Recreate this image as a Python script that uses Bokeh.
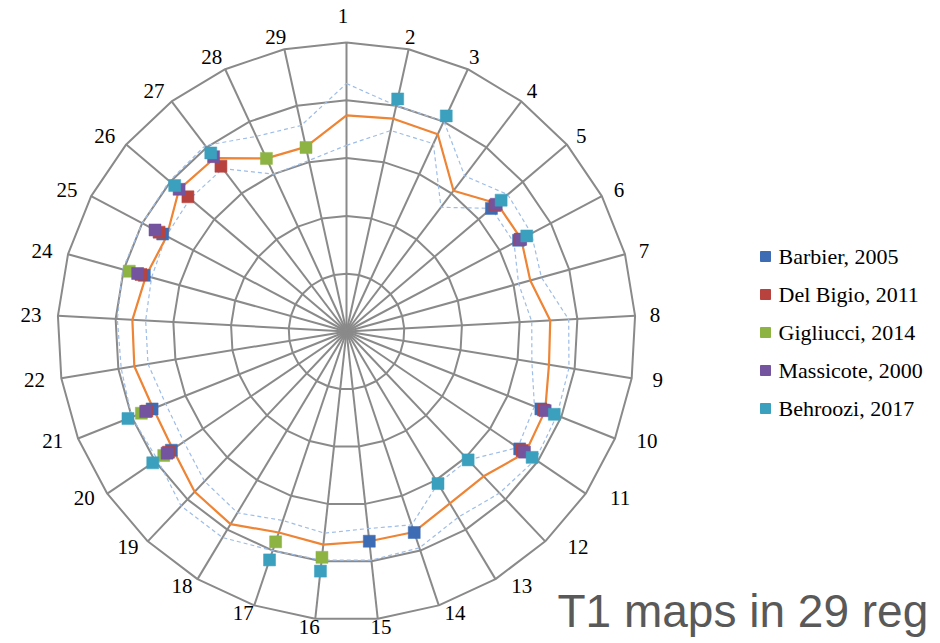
import numpy as np
from bokeh.plotting import figure
from bokeh.models import Range1d
from bokeh.core.properties import value
from bokeh.embed import file_html
from bokeh.resources import INLINE

# ---------------- data ----------------
regions = [str(i) for i in range(1, 30)]
ring_levels = [1, 2, 3, 4, 5]

mean_t1 = [3.74, 3.77, 3.76, 3.06, 3.42, 3.42, 3.30, 3.53, 3.55, 3.70,
           3.74, 3.45, 3.47, 3.66, 3.65, 3.71, 3.67, 3.89, 3.82, 3.63,
           3.60, 3.72, 3.71, 3.60, 3.52, 3.80, 3.77, 3.30, 3.27]
lower_t1 = [3.22, 3.56, 3.58, 2.70, 3.29, 3.28, 3.09, 3.21, 3.25, 3.50,
            3.58, 3.06, 3.07, 3.53, 3.43, 3.51, 3.45, 3.66, 3.57, 3.40,
            3.37, 3.48, 3.48, 3.50, 3.53, 3.55, 3.54, 3.00, 3.03]
upper_t1 = [4.29, 4.00, 4.01, 3.38, 3.66, 3.62, 3.50, 3.85, 3.90, 3.92,
            3.95, 3.85, 3.75, 3.95, 3.98, 3.98, 4.00, 4.16, 4.16, 3.95,
            4.00, 3.95, 3.97, 4.02, 4.00, 4.02, 4.04, 3.72, 3.65]

N = None
barbier_2005 = [N, N, N, N, 3.29, 3.37, N, N, N, 3.62,
                3.62, N, N, 3.67, 3.65, N, N, N, N, 3.66,
                3.62, N, N, 3.63, 3.60, N, N, N, N]
delbigio_2011 = [N, N, N, N, 3.37, 3.40, N, N, N, 3.67,
                 3.67, N, N, N, N, N, N, N, N, 3.72,
                 3.72, N, N, 3.69, 3.67, 3.60, 3.59, N, N]
gigliucci_2014 = [N, N, N, N, N, N, N, N, N, N,
                  N, N, N, N, N, 3.93, 3.84, N, N, 3.82,
                  3.82, N, N, 3.90, N, N, N, 3.30, 3.26]
massicote_2000 = [N, N, N, N, 3.40, 3.41, N, N, N, 3.70,
                  3.72, N, N, N, N, N, N, N, N, 3.75,
                  3.74, N, N, 3.75, 3.75, 3.80, 3.80, N, N]
behroozi_2017 = [N, 4.12, 4.11, N, 3.51, 3.53, N, N, N, 3.87,
                 3.88, 3.06, 3.07, N, N, 4.17, 4.17, N, N, 4.05,
                 4.07, N, N, N, N, 3.90, 3.88, N, N]

studies = ["Barbier, 2005", "Del Bigio, 2011", "Gigliucci, 2014",
           "Massicote, 2000", "Behroozi, 2017"]
study_values = [barbier_2005, delbigio_2011, gigliucci_2014,
                massicote_2000, behroozi_2017]
study_colors = ["#3E6CB4", "#B8433E", "#8DB443", "#74549F", "#3BA0BE"]

# ---------------- geometry ----------------
W, H = 940, 642
S = 57.8            # px per ring unit
CX, CY = 346, 331   # centre in figure pixels (from top-left)

def px_to_data(fx, fy):
    return (fx - CX) / S, (CY - fy) / S

n = len(regions)
theta = 2 * np.pi * np.arange(n) / n

def polar(r, th):
    r = np.asarray(r, dtype=float)
    return r * np.sin(th), r * np.cos(th)

p = figure(width=W, height=H, output_backend="svg", toolbar_location=None,
           x_range=Range1d(-CX / S, (W - CX) / S),
           y_range=Range1d(-(H - CY) / S, CY / S),
           x_axis_type=None, y_axis_type=None, min_border=0)
p.grid.visible = False
p.outline_line_color = None
p.background_fill_color = "white"

grid_color = "#8A8A8A"
# rings
ring_xs, ring_ys = [], []
for lv in ring_levels:
    th = np.append(theta, theta[0])
    x, y = polar(np.full(len(th), lv), th)
    ring_xs.append(list(x))
    ring_ys.append(list(y))
p.multi_line(ring_xs, ring_ys, line_color=grid_color, line_width=2)
# spokes
sx, sy = polar(np.full(n, max(ring_levels)), theta)
p.segment(x0=np.zeros(n), y0=np.zeros(n), x1=sx, y1=sy,
          line_color=grid_color, line_width=2)

# ---------------- series lines ----------------
def closed(vals):
    th = np.append(theta, theta[0])
    v = np.append(np.asarray(vals, float), vals[0])
    return polar(v, th)

for vals in (lower_t1, upper_t1):
    x, y = closed(vals)
    p.line(x, y, line_color="#9EBDE8", line_width=1.2, line_dash="4 3")
x, y = closed(mean_t1)
p.line(x, y, line_color="#EE8434", line_width=2.2)

# ---------------- study markers ----------------
for name, vals, col in zip(studies, study_values, study_colors):
    idx = [i for i, v in enumerate(vals) if v is not None]
    r = [vals[i] for i in idx]
    x, y = polar(r, theta[idx])
    p.scatter(x, y, marker="square", size=12, fill_color=col, line_color=col,
              line_width=0.5)

# ---------------- region labels ----------------
lab_x, lab_y = [], []
for i, lab in enumerate(regions):
    s, c = np.sin(theta[i]), np.cos(theta[i])
    fx = CX - 3.5 + 312.5 * s
    if s > 0 and c < 0:
        fx += 40 * s * abs(c)
    fy = CY - (302 if c > 0 else 297) * c
    if i == 0:
        fy -= 14
    dx, dy = px_to_data(fx, fy)
    lab_x.append(dx)
    lab_y.append(dy)
p.text(lab_x, lab_y, text=regions, text_font=value("Liberation Serif"),
       text_font_size="21px", text_align="center", text_baseline="middle",
       text_color="black")

# ---------------- legend ----------------
lg_x, lg_y, tx_x = [], [], []
for i in range(len(studies)):
    a, b = px_to_data(765, 256 + 38 * i)
    lg_x.append(a)
    lg_y.append(b)
    tx_x.append(px_to_data(778, 0)[0])
p.scatter(lg_x, lg_y, marker="square", size=10, fill_color=study_colors,
          line_color=study_colors)
p.text(tx_x, lg_y, text=studies, text_font=value("Liberation Serif"),
       text_font_size="22px", text_align="left", text_baseline="middle",
       text_color="black")

# ---------------- caption ----------------
tx, ty = px_to_data(557, 610)
p.text([tx], [ty], text=["T1 maps in 29 reg"], text_font=value("Liberation Sans"),
       text_font_size="46px", text_align="left", text_baseline="alphabetic",
       text_color="#595959")

open("out.html", "w").write(file_html(p, INLINE))
